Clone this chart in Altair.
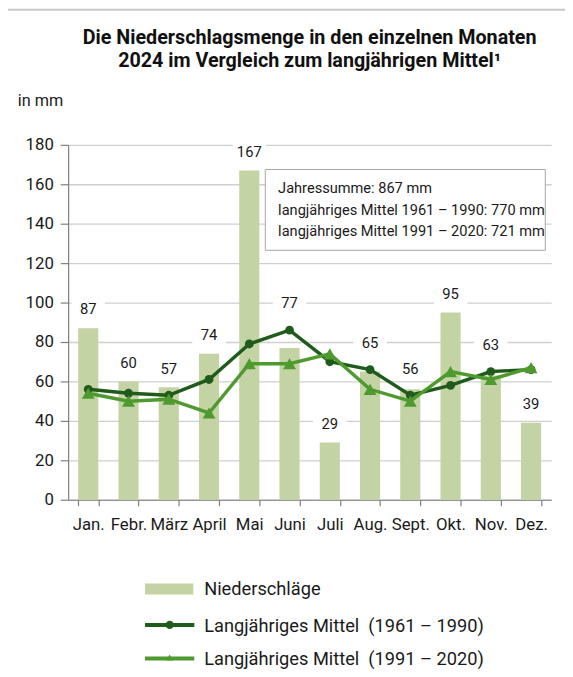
import altair as alt
import pandas as pd

months = ["Jan.", "Febr.", "März", "April", "Mai", "Juni", "Juli", "Aug.", "Sept.", "Okt.", "Nov.", "Dez."]
niederschlag = [87, 60, 57, 74, 167, 77, 29, 65, 56, 95, 63, 39]
mittel_6190 = [56, 54, 53, 61, 79, 86, 70, 66, 53, 58, 65, 66]
mittel_9120 = [54, 50, 51, 44, 69, 69, 74, 56, 50, 65, 61, 67]
y_ticks = [0, 20, 40, 60, 80, 100, 120, 140, 160, 180]

title_lines = ["Die Niederschlagsmenge in den einzelnen Monaten",
               "2024 im Vergleich zum langjährigen Mittel¹"]
info_lines = ["Jahressumme: 867 mm",
              "langjähriges Mittel 1961 – 1990: 770 mm",
              "langjähriges Mittel 1991 – 2020: 721 mm"]
legend_labels = ["Niederschläge",
                 "Langjähriges Mittel\u00a0 (1961 – 1990)",
                 "Langjähriges Mittel\u00a0 (1991 – 2020)"]

FONT = "Roboto, Liberation Sans, sans-serif"
BAR = "#c3d3a4"
DARK = "#1f5b1b"
LIGHT = "#4f9a2f"
TXT = "#1a1a1a"
AX = "#7f7f7f"

df = pd.DataFrame({"Monat": months, "N": niederschlag, "M1": mittel_6190, "M2": mittel_9120})

x_axis = alt.Axis(labelAngle=0, tickBand="extent", tickSize=6, labelPadding=11, grid=False,
                  labelFontSize=17, domainColor=AX, tickColor=AX, labelColor=TXT, labelFont=FONT,
                  domainWidth=1.2, tickWidth=1.2)
y_axis = alt.Axis(values=y_ticks, tickSize=8, labelPadding=7, labelFontSize=17, labelOverlap=False,
                  grid=True, gridColor="#cfcfcf", gridWidth=1.3,
                  domainColor=AX, tickColor=AX, labelColor=TXT, labelFont=FONT,
                  domainWidth=1.2, tickWidth=1.2)
x_scale = alt.Scale(paddingInner=0.5, paddingOuter=0.25)
y_scale = alt.Scale(domain=[0, 180], nice=False)


def X(**kw):
    return alt.X("Monat:N", sort=months, title=None, scale=x_scale, axis=x_axis, **kw)


def Y(field):
    return alt.Y(field, title=None, scale=y_scale, axis=y_axis)


base = alt.Chart(df)

bars = base.mark_bar(color=BAR).encode(x=X(), y=Y("N:Q"))

# labels sit above the bar, or above the lines where they would collide
lab = base.transform_calculate(
    lab="datum.N + 15 >= max(datum.M1, datum.M2) ? max(datum.N, datum.M1 + 4, datum.M2 + 4) : datum.N"
).transform_calculate(lo="datum.lab + 4", hi="datum.lab + 15")

label_box = lab.mark_bar(color="white", width=34).encode(x=X(), y=Y("lo:Q"), y2="hi:Q")
label_text = lab.mark_text(dy=-19, baseline="middle", fontSize=15, font=FONT, color=TXT).encode(
    x=X(), y=Y("lab:Q"), text="N:Q")

line1 = base.mark_line(color=DARK, strokeWidth=3.5).encode(x=X(bandPosition=0.5), y=Y("M1:Q"))
pts1 = base.mark_point(color=DARK, filled=True, opacity=1, size=80, shape="circle").encode(
    x=X(bandPosition=0.5), y=Y("M1:Q"))
line2 = base.mark_line(color=LIGHT, strokeWidth=3.5).encode(x=X(bandPosition=0.5), y=Y("M2:Q"))
pts2 = base.mark_point(color=LIGHT, filled=True, opacity=1, size=170, shape="triangle-up").encode(
    x=X(bandPosition=0.5), y=Y("M2:Q"))

one = pd.DataFrame({"k": [0]})
ann = alt.Chart(one)

# info box
info_box = ann.mark_rect(fill="white", stroke="#a6a6a6", strokeWidth=1).encode(
    x=alt.value(200), x2=alt.value(484), y=alt.value(25), y2=alt.value(107))
info_layers = [ann.mark_text(text=t, align="left", baseline="middle", fontSize=14.8, font=FONT, color=TXT).encode(
    x=alt.value(213), y=alt.value(yy)) for t, yy in zip(info_lines, [45, 67, 88])]

# title
title_layers = [ann.mark_text(text=t, align="center", baseline="middle", fontSize=20, fontWeight="bold",
                              font=FONT, color="#111111").encode(x=alt.value(245), y=alt.value(yy))
                for t, yy in zip(title_lines, [-108, -85])]
unit = ann.mark_text(text="in mm", align="left", baseline="middle", fontSize=16.5, font=FONT, color=TXT).encode(
    x=alt.value(-51), y=alt.value(-44))

# legend
leg_bar = ann.mark_rect(color=BAR).encode(x=alt.value(78), x2=alt.value(127), y=alt.value(445), y2=alt.value(456))
leg_l1 = ann.mark_rule(color=DARK, strokeWidth=4).encode(x=alt.value(78), x2=alt.value(128), y=alt.value(487))
leg_p1 = ann.mark_point(color=DARK, filled=True, opacity=1, size=70, shape="circle").encode(
    x=alt.value(103), y=alt.value(487))
leg_l2 = ann.mark_rule(color=LIGHT, strokeWidth=4).encode(x=alt.value(78), x2=alt.value(128), y=alt.value(521))
leg_p2 = ann.mark_point(color=LIGHT, filled=True, opacity=1, size=50, shape="triangle-up").encode(
    x=alt.value(103), y=alt.value(520))
leg_text = [ann.mark_text(text=t, align="left", baseline="middle", fontSize=18.5, font=FONT, color=TXT).encode(
    x=alt.value(138), y=alt.value(yy)) for t, yy in zip(legend_labels, [451, 488, 522])]

# outer frame (top and left)
frame_top = ann.mark_rule(color="#c8c8c8", strokeWidth=2).encode(
    x=alt.value(-64), x2=alt.value(510), y=alt.value(-137))
frame_left = ann.mark_rule(color="#c8c8c8", strokeWidth=2).encode(
    x=alt.value(-64), y=alt.value(-137), y2=alt.value(540))

chart = alt.layer(
    bars, label_box, label_text, info_box, *info_layers, line1, pts1, line2, pts2,
    *title_layers, unit, leg_bar, leg_l1, leg_p1, leg_l2, leg_p2, *leg_text, frame_top, frame_left
).properties(
    width=490, height=360,
    autosize=alt.AutoSizeParams(type="none"),
    padding={"left": 61, "top": 134, "right": 14, "bottom": 175},
).configure_view(stroke=None)

chart.save("out.html", embed_options={"renderer": "svg", "actions": False})
